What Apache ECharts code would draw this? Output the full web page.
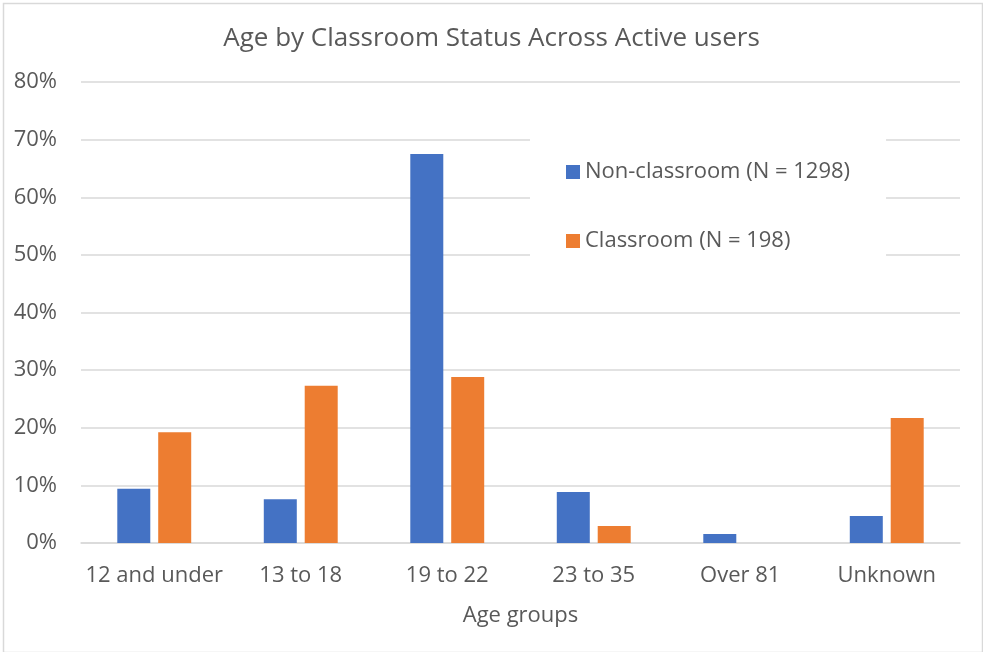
<!DOCTYPE html>
<html>
<head>
<meta charset="utf-8">
<script src="https://cdn.jsdelivr.net/npm/echarts@6/dist/echarts.min.js"></script>
<style>
html,body{margin:0;padding:0;background:#fff;}
#chart{width:983px;height:652px;}
</style>
</head>
<body>
<div id="chart"></div>
<script>
const categories = ['12 and under', '13 to 18', '19 to 22', '23 to 35', 'Over 81', 'Unknown'];
const nonClassroom = [9.4, 7.6, 67.5, 8.85, 1.55, 4.7];
const classroom = [19.2, 27.3, 28.8, 2.95, 0, 21.7];
const seriesNames = ['Non-classroom (N = 1298)', 'Classroom (N = 198)'];
const yTicks = [0, 10, 20, 30, 40, 50, 60, 70, 80];

const FONT = '"Open Sans", sans-serif';
const TXT = '#595959';
const chart = echarts.init(document.getElementById('chart'), null, {renderer: 'canvas'});
chart.setOption({
  animation: false,
  backgroundColor: '#fff',
  textStyle: {fontFamily: FONT},
  title: {
    text: 'Age by Classroom Status Across Active users',
    left: 'center', top: 21,
    textStyle: {fontFamily: FONT, fontSize: 26, fontWeight: 'normal', color: TXT}
  },
  graphic: [{
    type: 'rect', left: 1, top: 1, z: -10, silent: true,
    shape: {width: 979, height: 649},
    style: {fill: 'none', stroke: '#d9d9d9', lineWidth: 1.5}
  }],
  legend: {
    orient: 'vertical',
    left: 530, top: 100,
    padding: [61, 36, 42, 36],
    backgroundColor: '#fff',
    itemWidth: 14, itemHeight: 14, itemGap: 47,
    icon: 'rect',
    textStyle: {fontFamily: FONT, fontSize: 22, color: TXT},
    data: seriesNames
  },
  grid: {left: 81, right: 23, top: 82, bottom: 109, containLabel: false},
  xAxis: {
    type: 'category',
    data: categories,
    name: 'Age groups',
    nameLocation: 'middle',
    nameGap: 62,
    nameTextStyle: {fontFamily: FONT, fontSize: 22, color: TXT},
    axisTick: {show: false},
    axisLine: {lineStyle: {color: '#d9d9d9', width: 1.5}},
    axisLabel: {fontFamily: FONT, fontSize: 22, color: TXT, margin: 22, interval: 0}
  },
  yAxis: {
    type: 'value',
    min: yTicks[0], max: yTicks[yTicks.length - 1], interval: 10,
    axisLine: {show: false},
    axisTick: {show: false},
    splitLine: {lineStyle: {color: '#d9d9d9', width: 1.5}},
    axisLabel: {fontFamily: FONT, fontSize: 22, color: TXT, margin: 24, formatter: '{value}%'}
  },
  series: [
    {name: seriesNames[0], type: 'bar', data: nonClassroom, barWidth: 33, barGap: '24%', itemStyle: {color: '#4472C4'}},
    {name: seriesNames[1], type: 'bar', data: classroom, barWidth: 33, barGap: '24%', itemStyle: {color: '#ED7D31'}}
  ]
});
</script>
</body>
</html>
